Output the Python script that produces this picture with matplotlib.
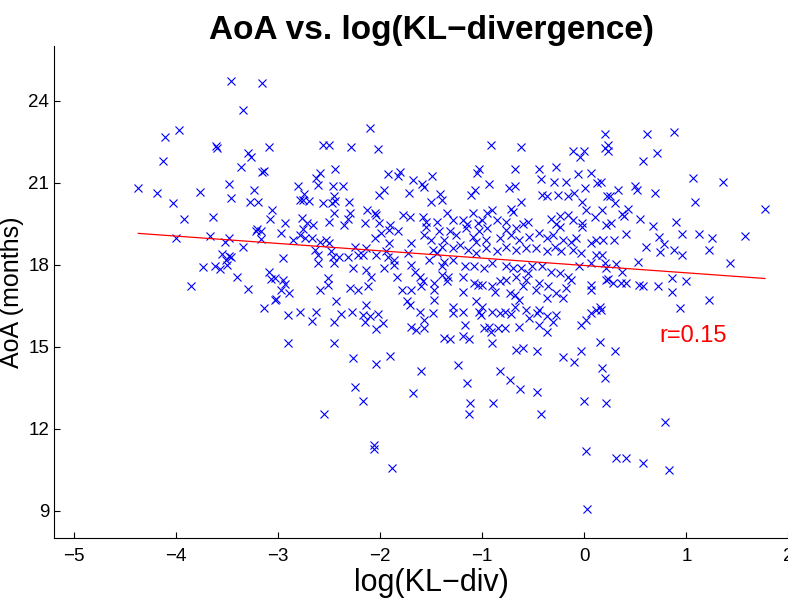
import numpy as np
import matplotlib.pyplot as plt

plt.rcParams['font.family'] = ['Liberation Sans', 'DejaVu Sans']

# log(KL-div) and AoA (months), region by region
log_kl = [
    # upper left
    -3.46, -3.16, -3.34, -4.11, -3.97, -3.60, -3.61, -3.09, -4.13, -3.30,
    -3.27, -3.36, -3.16, -3.14, -4.37, -4.19, -4.03, -3.77, -3.48, -3.46,
    -3.24, -3.28, -3.20, -3.06, -3.08, -3.92, -3.64, -2.93, -3.21,
    # middle left
    -4.00, -3.67, -3.52, -3.48, -3.34, -3.22, -3.17, -3.17, -2.97, -3.55,
    -3.48, -3.51, -3.46, -3.50, -3.57, -3.62, -3.74, -3.40, -3.85, -3.30,
    -2.95, -3.09, -3.07, -3.03, -2.95, -2.93, -2.97, -3.03, -3.02, -3.14,
    -2.90, -2.90,
    # upper, -3 .. -1.3
    -2.10, -2.56, -2.50, -2.29, -2.02, -2.44, -2.59, -2.63, -2.61, -2.81,
    -2.46, -2.36, -1.92, -1.81, -1.83, -1.68, -1.49, -1.59, -1.57, -1.96,
    -2.01, -1.72, -1.41, -2.75, -2.79, -2.76, -2.70, -2.56, -2.47, -2.45,
    -2.44, -2.31, -1.39, -1.50, -2.45, -2.30, -2.32, -2.13, -2.05, -2.04,
    -1.78, -1.71, -1.58, -1.55, -2.77, -2.72, -2.66, -2.50, -2.35, -2.15,
    -2.01, -1.90, -1.44, -1.35,
    # upper, -1.3 .. 0.2
    -0.91, -0.62, 0.20, 0.20, -0.11, 0.00, -0.04, -1.03, -1.05, -0.68,
    -0.44, -0.28, -0.42, -0.30, -0.18, -0.06, 0.07, 0.12, -0.93, -0.74,
    -0.68, 0.01, -1.07, -1.11, -0.41, -0.37, -0.26, -0.16, -0.10, 0.22,
    -0.02, -0.62, -0.72, -0.70, -0.90, -0.95, -1.09, -1.29, -1.19, -1.15,
    -1.04, -1.00, -0.86, -0.77, -0.60, -0.55, -0.33, -0.24, -0.16, -0.11,
    0.02, 0.10, 0.17, -0.28, -0.02, 0.21,
    # upper right
    0.61, 0.88, 0.23, 0.23, 0.71, 0.57, 1.06, 1.36, 0.16, 0.33,
    0.50, 0.52, 0.69, 0.25, 0.30, 1.08, 1.77, 0.43, 0.37, 0.39,
    0.55, 0.90, 0.67, 0.26,
    # middle right
    0.41, 0.73, 0.96, 1.12, 1.25, 1.57, 0.60, 0.78, 0.74, 0.88,
    0.96, 1.22, 0.18, 0.29, 0.17, 0.53, 1.43, 0.31, 0.21, 0.37,
    0.23, 0.28, 0.36, 0.41, 0.54, 0.57, 0.72, 0.86, 1.00, 0.86,
    1.22, 0.94, 0.16, 0.30, 0.17, 0.20, 0.15,
    # middle, -3 .. -1.3
    -2.79, -2.76, -2.85, -2.74, -2.67, -2.59, -2.53, -2.50, -2.05, -1.99,
    -1.91, -1.83, -1.91, -1.70, -1.55, -1.57, -1.50, -1.42, -1.37, -1.39,
    -2.64, -2.61, -2.61, -2.48, -2.46, -2.45, -2.40, -2.32, -2.25, -2.22,
    -2.17, -2.14, -2.04, -1.92, -1.94, -1.86, -1.86, -1.73, -1.70, -1.52,
    -1.48, -1.44, -1.37, -2.27, -2.14, -1.96, -1.66, -2.89, -2.59, -2.51,
    -2.51, -2.30, -2.22, -2.12, -2.09, -1.84, -1.79, -1.70, -1.61, -1.58,
    -1.60, -1.47, -1.39, -1.35, -1.47, -1.47, -1.74, -1.71, -2.43, -2.14,
    -2.79, -2.63, -2.67, -2.38, -2.45, -2.28, -2.17, -2.15, -2.10, -2.02,
    -1.97, -2.04, -1.61, -1.57, -1.48, -1.70, -1.65, -1.57, -1.37, -2.45,
    -2.27, -2.04, -1.90, -1.60, -2.25, -1.68,
    # middle, -1.3 .. 0.2
    -1.32, -1.26, -1.16, -1.09, -1.03, -0.95, -1.06, -0.96, -0.83, -0.77,
    -0.72, -0.67, -0.64, -0.54, -0.44, -0.37, -0.31, -0.24, -0.21, -0.13,
    -0.08, -0.02, 0.07, 0.11, -1.29, -1.22, -1.14, -1.06, -0.96, -0.86,
    -0.77, -0.67, -0.57, -0.47, -0.37, -0.29, -0.23, -0.11, -0.03, 0.11,
    -1.39, -1.29, -1.34, -1.17, -1.08, -0.98, -0.90, -0.77, -0.70, -0.62,
    -0.55, -0.51, -0.41, -0.33, -0.24, -0.16, -0.05, 0.07, 0.20, -1.19,
    -1.08, -1.04, -1.00, -0.90, -0.83, -0.77, -0.67, -0.60, -0.57, -0.47,
    -0.44, -0.36, -0.28, -0.18, -0.13, 0.07, 0.07, 0.21, -0.73, -0.68,
    -1.19, -1.06, -1.00, -0.88, -0.64, -0.68, -0.37, -0.21, -1.29, -1.29,
    -1.19, -1.03, -1.01, -0.90, -0.83, -0.78, -0.72, -0.57, -0.54, -0.46,
    -0.44, -0.37, -0.28, -0.31, -1.17, -0.98, -0.93, -0.91, -0.85, -0.78,
    -0.64, -0.44, -0.37, -0.03, 0.02, 0.07, 0.11, 0.15, -1.32, -1.19,
    -1.13, -0.90, -0.67, -0.60, -0.46, -0.21, -0.10, -0.03, -1.24, -0.83,
    -0.73, -1.15, -0.63, -0.46,
    # lower tail
    -2.17, -2.55, -2.06, -2.06, -1.88, -1.12, -1.13, -0.89, -0.42, 0.00,
    0.02, 0.03, 0.21, 0.79, 0.31, 0.41, 0.57, 0.83,
]

aoa = [
    # upper left
    24.74, 24.67, 23.68, 22.69, 22.93, 22.29, 22.33, 22.32, 21.79, 22.10,
    21.94, 21.57, 21.40, 21.42, 20.82, 20.64, 20.27, 20.66, 20.95, 20.44,
    20.74, 20.28, 20.28, 19.99, 19.66, 19.67, 19.76, 19.53, 19.31,
    # middle left
    18.98, 19.06, 18.83, 18.98, 18.67, 19.24, 19.22, 18.94, 19.16, 18.39,
    18.34, 18.18, 18.27, 18.00, 17.84, 17.94, 17.93, 17.55, 17.24, 17.10,
    18.24, 17.72, 17.48, 17.51, 17.45, 17.29, 17.08, 16.72, 16.76, 16.41,
    16.17, 15.13,
    # upper, -3 .. -1.3
    23.00, 22.39, 22.39, 22.32, 22.24, 21.50, 21.35, 21.18, 20.93, 20.89,
    20.89, 20.89, 21.33, 21.41, 21.26, 21.11, 21.26, 20.95, 20.86, 20.74,
    20.56, 20.64, 20.59, 20.59, 20.38, 20.38, 20.35, 20.26, 20.26, 20.52,
    20.32, 20.28, 20.38, 20.28, 19.89, 19.89, 19.67, 19.99, 19.91, 19.83,
    19.83, 19.74, 19.74, 19.58, 19.71, 19.53, 19.44, 19.55, 19.46, 19.53,
    19.53, 19.46, 19.58, 19.89,
    # upper, -1.3 .. 0.2
    22.39, 22.32, 22.79, 22.27, 22.18, 22.18, 21.94, 21.50, 21.35, 21.50,
    21.50, 21.57, 21.14, 21.03, 21.03, 21.33, 21.35, 20.99, 20.95, 20.82,
    20.89, 20.82, 20.74, 20.56, 20.56, 20.52, 20.56, 20.50, 20.64, 20.52,
    20.28, 20.28, 20.05, 19.95, 19.99, 19.91, 19.91, 19.65, 19.65, 19.50,
    19.53, 19.65, 19.65, 19.55, 19.50, 19.58, 19.67, 19.77, 19.83, 19.65,
    20.01, 19.74, 19.99, 19.50, 19.53, 19.46,
    # upper right
    22.77, 22.85, 22.39, 22.18, 22.10, 21.79, 21.19, 21.03, 21.03, 20.74,
    20.89, 20.74, 20.64, 20.50, 20.26, 20.28, 20.04, 20.05, 19.87, 19.80,
    19.67, 19.58, 19.43, 19.53,
    # middle right
    19.12, 19.03, 19.12, 19.13, 18.98, 19.06, 18.67, 18.77, 18.46, 18.55,
    18.37, 18.55, 18.91, 18.91, 18.37, 18.10, 18.06, 18.02, 17.90, 17.75,
    17.49, 17.33, 17.33, 17.33, 17.27, 17.24, 17.24, 17.51, 17.39, 17.02,
    16.72, 16.41, 16.35, 14.83, 14.22, 13.85, 15.19,
    # middle, -3 .. -1.3
    19.10, 19.32, 18.91, 18.98, 18.98, 18.85, 18.91, 18.79, 18.98, 19.16,
    19.28, 19.22, 18.79, 18.79, 19.40, 19.10, 18.91, 19.22, 18.91, 18.67,
    18.55, 18.37, 18.06, 18.49, 18.30, 18.06, 18.30, 18.30, 18.67, 18.37,
    18.37, 18.61, 18.37, 18.30, 18.49, 18.18, 18.00, 18.43, 18.00, 18.18,
    18.55, 18.43, 18.12, 17.88, 17.82, 17.88, 17.75, 16.96, 17.08, 17.51,
    17.27, 17.15, 17.08, 17.21, 17.57, 17.57, 17.08, 17.08, 17.57, 17.39,
    17.21, 17.33, 17.63, 17.39, 17.08, 16.72, 16.66, 16.54, 16.66, 16.54,
    16.27, 16.27, 15.96, 16.20, 15.90, 16.27, 16.17, 15.92, 16.11, 16.20,
    15.87, 15.66, 16.27, 15.99, 16.23, 15.74, 15.62, 15.68, 15.34, 15.13,
    14.59, 14.37, 14.67, 14.13, 13.52, 13.30,
    # middle, -1.3 .. 0.2
    19.22, 19.10, 19.34, 19.03, 19.22, 19.34, 18.85, 18.91, 18.98, 19.28,
    19.10, 19.34, 18.91, 19.03, 19.16, 18.98, 19.10, 19.40, 18.91, 18.85,
    18.98, 19.40, 18.79, 18.91, 18.61, 18.73, 18.55, 18.43, 18.61, 18.49,
    18.67, 18.55, 18.61, 18.61, 18.49, 18.67, 18.49, 18.55, 18.43, 18.37,
    17.94, 18.18, 17.57, 17.94, 17.94, 17.88, 18.06, 17.94, 17.88, 17.88,
    17.70, 17.94, 17.94, 17.75, 17.70, 17.57, 17.94, 18.06, 18.06, 17.57,
    17.33, 17.27, 17.27, 17.21, 17.39, 17.45, 17.57, 17.21, 17.45, 17.08,
    17.33, 17.21, 16.96, 17.15, 17.45, 17.27, 17.08, 17.45, 16.96, 16.90,
    17.02, 16.66, 16.47, 17.02, 16.72, 16.47, 16.78, 16.78, 16.47, 16.23,
    16.27, 16.27, 16.17, 16.27, 16.23, 16.27, 16.20, 16.35, 16.05, 16.23,
    16.35, 16.11, 16.17, 15.92, 15.80, 15.68, 15.74, 15.56, 15.68, 15.68,
    15.74, 15.80, 15.56, 15.80, 15.99, 16.23, 16.35, 16.47, 15.29, 15.38,
    15.29, 15.13, 14.89, 14.95, 14.83, 14.64, 14.46, 14.83, 14.34, 14.13,
    13.77, 13.69, 13.46, 13.36,
    # lower tail
    13.00, 12.55, 11.41, 11.26, 10.58, 12.94, 12.55, 12.94, 12.55, 13.00,
    11.19, 9.07, 12.94, 12.24, 10.95, 10.95, 10.74, 10.50,
]

# least-squares line as drawn, end points
fit_x = [-4.37, 1.77]
fit_y = [19.15, 17.50]
r_label = "r=0.15"

fig = plt.figure(figsize=(7.88, 6.04), dpi=100)
ax = fig.add_axes([0.0685, 0.109, 0.958, 0.8146])

ax.plot(log_kl, aoa, 'x', color='blue', markersize=6, markeredgewidth=0.8)
ax.plot(fit_x, fit_y, '-', color='red', linewidth=0.9)
ax.text(0.74, 15.4, r_label, color='red', fontsize=17, ha='left', va='center')

ax.set_xlim(-5.196, 2.2)
ax.set_ylim(8, 26)
ax.set_xticks(np.arange(-5, 3, 1))
ax.set_yticks(np.arange(9, 25, 3))

for side in ['top', 'right']:
    ax.spines[side].set_visible(False)
ax.tick_params(direction='in', length=4, labelsize=13.5, width=0.8)
ax.tick_params(axis='x', pad=7)

ax.set_title("AoA vs. log(KL\u2212divergence)", fontsize=24, fontweight='bold', pad=5)
ax.set_xlabel("log(KL\u2212div)", fontsize=22, labelpad=2)
ax.set_ylabel("AoA (months)", fontsize=18, labelpad=3)

fig.savefig("out.png", dpi=100)
